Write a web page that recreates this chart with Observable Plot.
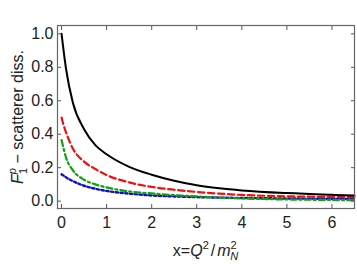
<!DOCTYPE html>
<html><head><meta charset="utf-8">
<script src="https://cdn.jsdelivr.net/npm/d3@7"></script>
<script src="https://cdn.jsdelivr.net/npm/@observablehq/plot@0.6"></script>
<style>body{margin:0;background:#fff} svg{display:block}</style>
</head><body><div id="chart"></div>
<script>
const xs    = [0, 0.05, 0.1, 0.25, 0.5, 0.75, 1, 1.5, 2, 2.5, 3, 3.5, 4, 5, 6, 6.5];
const black = [1.0, 0.89, 0.79, 0.59, 0.43, 0.335, 0.28, 0.205, 0.158, 0.122, 0.095, 0.077, 0.064, 0.048, 0.038, 0.034];
const red   = [0.50, 0.45, 0.41, 0.315, 0.236, 0.192, 0.156, 0.112, 0.085, 0.068, 0.055, 0.045, 0.037, 0.029, 0.025, 0.024];
const green = [0.365, 0.31, 0.26, 0.185, 0.128, 0.10, 0.082, 0.058, 0.046, 0.036, 0.028, 0.021, 0.016, 0.01, 0.007, 0.006];
const blue  = [0.16, 0.152, 0.142, 0.12, 0.092, 0.074, 0.061, 0.045, 0.034, 0.028, 0.024, 0.021, 0.019, 0.016, 0.014, 0.013];
const xTicks = [0, 1, 2, 3, 4, 5, 6];
const yTicks = [0, 0.2, 0.4, 0.6, 0.8, 1.0];

const series = [
  {values: black, stroke: "#000000", dash: null, width: 2},
  {values: red,   stroke: "#ee1111", dash: "6.5,3.5", width: 2.2},
  {values: green, stroke: "#11a011", dash: "6,3,2.2,3", width: 2.2},
  {values: blue,  stroke: "#1111bb", dash: "2.4,2.4", width: 2.4}
];
const rows = s => xs.map((x, i) => ({x, y: s.values[i]}));

const axisStyle = {stroke: "#555"};
const plot = Plot.plot({
  width: 357, height: 264,
  marginLeft: 57, marginRight: 3, marginTop: 25, marginBottom: 56,
  style: {fontFamily: "Liberation Sans, Arial, sans-serif", fontSize: "16px", background: "#fff", color: "#222"},
  x: {domain: [-0.09, 6.5]},
  y: {domain: [-0.044, 1.05]},
  marks: [
    ...series.slice().reverse().map(s => Plot.line(rows(s), {x: "x", y: "y", stroke: s.stroke, strokeWidth: s.width, strokeDasharray: s.dash, curve: "monotone-x"})),
    Plot.axisX(xTicks, {anchor: "bottom", tickSize: -4, tickPadding: 12, label: null, ...axisStyle}),
    Plot.axisX(xTicks, {anchor: "top", tickSize: -4, tickFormat: () => "", label: null, ...axisStyle}),
    Plot.axisY(yTicks, {anchor: "left", tickSize: -4, tickPadding: 8, tickFormat: d3.format(".1f"), label: null, ...axisStyle}),
    Plot.axisY(yTicks, {anchor: "right", tickSize: -4, tickFormat: () => "", label: null, ...axisStyle}),
    Plot.frame({stroke: "#666", strokeWidth: 1.2})
  ]
});
document.getElementById("chart").appendChild(plot);

const svg = d3.select(plot);
const font = "Liberation Sans, Arial, sans-serif";
// x label
const xl = svg.append("text").attr("x", 205.5).attr("y", 256).attr("text-anchor", "middle")
  .attr("font-family", font).attr("font-size", 16).attr("fill", "#222");
xl.append("tspan").text("x=");
xl.append("tspan").attr("font-style", "italic").text("Q");
xl.append("tspan").attr("font-size", 11).attr("dy", -7).text("2");
xl.append("tspan").attr("dy", 7).attr("dx", 2).text("/");
xl.append("tspan").attr("dx", 2).attr("font-style", "italic").text("m");
xl.append("tspan").attr("font-size", 11).attr("dy", -7).text("2");
xl.append("tspan").attr("font-size", 11).attr("font-style", "italic").attr("dx", -6.5).attr("dy", 11).text("N");
// y label
const yl = svg.append("text").attr("transform", "translate(23,117) rotate(-90)").attr("text-anchor", "middle")
  .attr("font-family", font).attr("font-size", 16).attr("fill", "#222");
yl.append("tspan").attr("font-style", "italic").text("F");
yl.append("tspan").attr("font-size", 11).attr("font-style", "italic").attr("dy", -7).text("p");
yl.append("tspan").attr("font-size", 11).attr("dx", -6).attr("dy", 11).text("1");
yl.append("tspan").attr("dy", -4).text(" \u2212 scatterer diss.");
</script>
</body></html>
